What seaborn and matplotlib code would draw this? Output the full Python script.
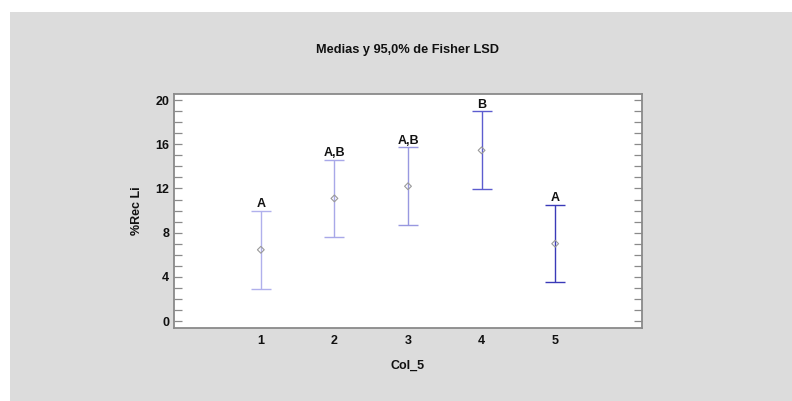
import matplotlib
matplotlib.use("Agg")
import matplotlib.pyplot as plt
from matplotlib.patches import Rectangle
from matplotlib.ticker import MultipleLocator
import seaborn as sns
import pandas as pd

# Group means and Fisher LSD 95% interval half-widths for %Rec Li by Col_5
groups = ["1", "2", "3", "4", "5"]
means = [6.45, 11.1, 12.2, 15.45, 7.0]
half_widths = [3.55, 3.5, 3.53, 3.53, 3.5]
letters = ["A", "A,B", "A,B", "B", "A"]
bar_colors = ["#b0b0ec", "#a8a8e8", "#9898e0", "#5c5ccf", "#3a3ab8"]

df = pd.DataFrame({
    "pos": range(1, len(groups) + 1),
    "Col_5": groups,
    "mean": means,
    "hw": half_widths,
})
df["lo"] = df["mean"] - df["hw"]
df["hi"] = df["mean"] + df["hw"]

sns.set_theme(style="white")
plt.rcParams["font.family"] = ["Liberation Sans", "DejaVu Sans"]

fig = plt.figure(figsize=(7.92, 4.01), dpi=100)
fig.patch.set_facecolor("white")
fig.patches.append(Rectangle((10 / 792, 0), 1, 1 - 12 / 401,
                             transform=fig.transFigure, facecolor="#dcdcdc",
                             edgecolor="none", zorder=-10))

ax = fig.add_axes([174 / 792, 1 - 328 / 401, 468 / 792, 234 / 401])
ax.set_facecolor("white")

for _, row in df.iterrows():
    c = bar_colors[int(row["pos"]) - 1]
    ax.errorbar(row["pos"], row["mean"], yerr=row["hw"], fmt="none",
                ecolor=c, elinewidth=1.0, capsize=7.5, capthick=1.0, zorder=2)

sns.scatterplot(data=df, x="pos", y="mean", ax=ax, marker="D", s=12,
                facecolor="none", edgecolor="#9a9a9a", linewidth=0.8,
                zorder=3, legend=False)

for _, row in df.iterrows():
    ax.annotate(letters[int(row["pos"]) - 1], (row["pos"], row["hi"]),
                xytext=(0, 0.5), textcoords="offset points", ha="center",
                va="bottom", fontsize=9, fontweight="bold", color="#111111")

ax.set_xlim(-0.18, 6.18)
ax.set_ylim(-0.63, 20.55)
ax.set_xticks(df["pos"])
ax.set_xticklabels(groups)
ax.yaxis.set_major_locator(MultipleLocator(4))
ax.yaxis.set_minor_locator(MultipleLocator(1))

for s in ax.spines.values():
    s.set_color("#8a8a8a")
    s.set_linewidth(1.3)

ax.tick_params(axis="y", which="both", direction="in", left=True, right=True,
               color="#8a8a8a", width=0.9)
ax.tick_params(axis="y", which="major", length=6)
ax.tick_params(axis="y", which="minor", length=6)
ax.tick_params(axis="x", which="both", length=0, pad=5)
for lab in ax.get_xticklabels() + ax.get_yticklabels():
    lab.set_fontweight("bold")
    lab.set_fontsize(9)
    lab.set_color("#111111")

ax.set_xlabel("Col_5", fontsize=9, fontweight="bold", color="#111111", labelpad=9)
ax.set_ylabel("%Rec Li", fontsize=9, fontweight="bold", color="#111111", labelpad=8.5)
ax.set_title("Medias y 95,0% de Fisher LSD", fontsize=9.2, fontweight="bold",
             color="#111111", pad=29.5)

fig.savefig("out.png", dpi=100)
